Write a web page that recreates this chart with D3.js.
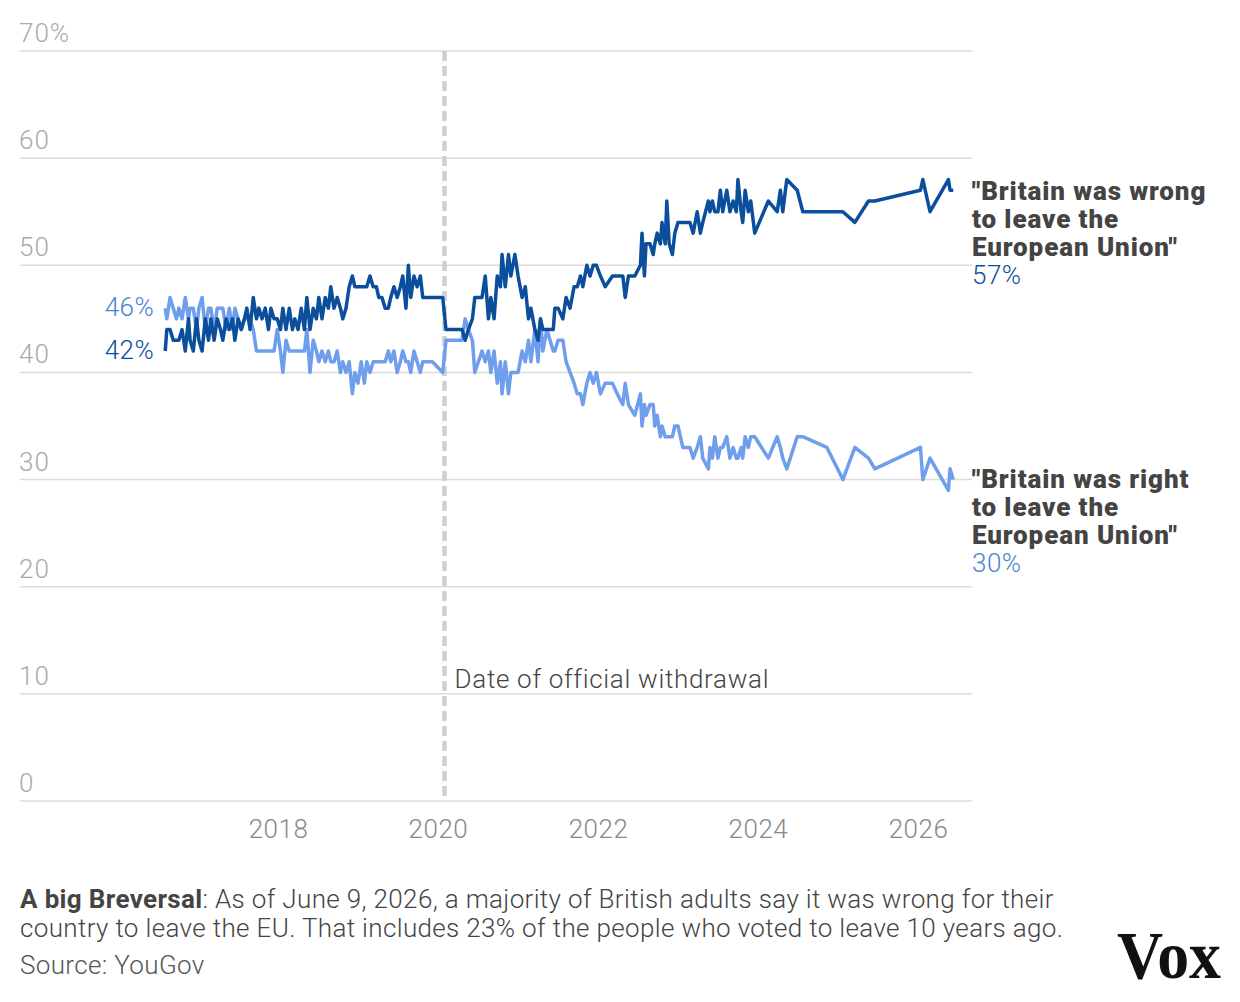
<!DOCTYPE html>
<html>
<head>
<meta charset="utf-8">
<script src="https://cdn.jsdelivr.net/npm/d3@7"></script>
<style>
  body { margin: 0; background: #fff; }
  svg { display: block; font-family: Roboto, "Open Sans", sans-serif; }
</style>
</head>
<body>
<svg id="chart" width="1240" height="1002"></svg>
<script>
// poll dates as decimal years (YouGov tracker)
var pollYears = [
  2016.59, 2016.61, 2016.65, 2016.69, 2016.73, 2016.76, 2016.80, 2016.84, 2016.88, 2016.90,
  2016.94, 2016.98, 2017.01, 2017.05, 2017.09, 2017.13, 2017.16, 2017.20, 2017.24, 2017.28,
  2017.31, 2017.35, 2017.39, 2017.43, 2017.46, 2017.50, 2017.54, 2017.58, 2017.61, 2017.65,
  2017.69, 2017.73, 2017.76, 2017.80, 2017.84, 2017.88, 2017.91, 2017.95, 2017.99, 2018.03,
  2018.06, 2018.10, 2018.14, 2018.18, 2018.21, 2018.25, 2018.29, 2018.33, 2018.36, 2018.40,
  2018.44, 2018.48, 2018.51, 2018.55, 2018.59, 2018.63, 2018.66, 2018.70, 2018.74, 2018.78,
  2018.81, 2018.85, 2018.89, 2018.93, 2018.96, 2019.00, 2019.04, 2019.08, 2019.11, 2019.15,
  2019.19, 2019.23, 2019.26, 2019.30, 2019.34, 2019.38, 2019.41, 2019.45, 2019.49, 2019.53,
  2019.56, 2019.60, 2019.63, 2019.66, 2019.70, 2019.74, 2019.78, 2019.81, 2019.85, 2019.93,
  2020.06, 2020.10, 2020.30, 2020.34, 2020.38, 2020.43, 2020.46, 2020.55, 2020.59, 2020.63,
  2020.66, 2020.70, 2020.74, 2020.78, 2020.80, 2020.84, 2020.88, 2020.91, 2020.96, 2021.00,
  2021.05, 2021.09, 2021.13, 2021.16, 2021.21, 2021.25, 2021.28, 2021.31, 2021.36, 2021.40,
  2021.44, 2021.46, 2021.50, 2021.56, 2021.60, 2021.65, 2021.70, 2021.74, 2021.78, 2021.81,
  2021.86, 2021.90, 2021.94, 2021.98, 2022.03, 2022.09, 2022.18, 2022.24, 2022.31, 2022.34,
  2022.38, 2022.46, 2022.53, 2022.55, 2022.58, 2022.60, 2022.65, 2022.69, 2022.71, 2022.74,
  2022.78, 2022.80, 2022.84, 2022.86, 2022.89, 2022.93, 2022.96, 2023.00, 2023.06, 2023.15,
  2023.19, 2023.24, 2023.28, 2023.31, 2023.38, 2023.40, 2023.43, 2023.46, 2023.50, 2023.53,
  2023.56, 2023.61, 2023.65, 2023.69, 2023.73, 2023.75, 2023.79, 2023.81, 2023.84, 2023.88,
  2023.91, 2023.96, 2024.13, 2024.24, 2024.28, 2024.31, 2024.36, 2024.49, 2024.56, 2024.86,
  2025.06, 2025.21, 2025.38, 2025.46, 2026.03, 2026.06, 2026.15, 2026.38, 2026.40, 2026.44
];

// "Britain was wrong to leave"
var wrongValues = [
  42, 44, 44, 43, 43, 43, 44, 42, 45, 43,
  42, 45, 43, 42, 45, 43, 45, 43, 45, 44,
  43, 45, 44, 45, 43, 45, 44, 45, 46, 44,
  47, 45, 46, 45, 46, 44, 46, 45, 45, 44,
  46, 44, 46, 44, 45, 44, 46, 44, 47, 44,
  46, 45, 47, 45, 47, 46, 48, 46, 47, 46,
  45, 46, 48, 49, 48, 48, 48, 48, 48, 49,
  48, 48, 47, 47, 46, 46, 47, 48, 47, 48,
  49, 46, 50, 47, 49, 48, 49, 47, 47, 47,
  47, 44, 44, 43, 44, 45, 47, 47, 49, 45,
  47, 45, 49, 48, 51, 48, 51, 49, 51, 49,
  47, 48, 45, 46, 44, 43, 45, 44, 44, 44,
  44, 46, 46, 45, 47, 46, 48, 48, 49, 48,
  50, 49, 50, 50, 49, 48, 49, 49, 49, 47,
  49, 49, 50, 53, 49, 52, 52, 51, 52, 53,
  52, 54, 52, 56, 52, 51, 53, 54, 54, 54,
  53, 55, 53, 54, 56, 55, 56, 55, 55, 57,
  55, 57, 55, 56, 55, 58, 55, 54, 57, 55,
  56, 53, 56, 55, 57, 55, 58, 57, 55, 55,
  55, 54, 56, 56, 57, 58, 55, 58, 57, 57
];

// "Britain was right to leave"
var rightValues = [
  46, 45, 47, 46, 45, 46, 45, 47, 45, 46,
  46, 44, 46, 47, 44, 46, 46, 44, 46, 46,
  46, 44, 46, 44, 46, 45, 44, 45, 45, 45,
  44, 42, 42, 42, 42, 42, 42, 42, 44, 42,
  40, 43, 42, 42, 42, 42, 42, 42, 44, 40,
  43, 42, 41, 42, 41, 42, 41, 41, 42, 40,
  41, 40, 41, 38, 40, 39, 41, 39, 41, 40,
  41, 41, 41, 41, 41, 42, 41, 42, 40, 41,
  42, 41, 41, 40, 42, 41, 40, 41, 41, 41,
  40, 43, 43, 45, 44, 43, 40, 42, 41, 42,
  40, 42, 39, 41, 38, 41, 38, 40, 40, 40,
  42, 41, 43, 41, 44, 41, 45, 42, 44, 43,
  42, 42, 43, 43, 41, 40, 39, 38, 38, 37,
  39, 40, 39, 40, 38, 39, 39, 38, 37, 39,
  37, 36, 38, 35, 37, 36, 37, 37, 35, 36,
  34, 35, 34, 34, 34, 34, 35, 35, 33, 33,
  32, 33, 34, 32, 31, 33, 32, 34, 32, 33,
  33, 34, 32, 33, 32, 32, 33, 32, 34, 33,
  34, 34, 32, 34, 33, 32, 31, 34, 34, 33,
  30, 33, 32, 31, 33, 30, 32, 29, 31, 30
];

var yTicks = [0, 10, 20, 30, 40, 50, 60, 70];
var xTicks = [2018, 2020, 2022, 2024, 2026];
var withdrawalDate = '2020-01-31';

var wrongLabel = ['"Britain was wrong', 'to leave the', 'European Union"'];
var rightLabel = ['"Britain was right', 'to leave the', 'European Union"'];

var darkBlue = '#0b4f9c';
var lightBlue = '#6f9eec';
var labelBlue = '#4a82d6';
var fs = 26;

function yearToDate(y) {
  var yr = Math.floor(y);
  var start = Date.UTC(yr, 0, 1);
  var end = Date.UTC(yr + 1, 0, 1);
  return new Date(start + (y - yr) * (end - start));
}

var polls = pollYears.map(function (y, i) {
  return { date: yearToDate(y), wrong: wrongValues[i], right: rightValues[i] };
});

var svg = d3.select('#chart');
svg.append('rect').attr('width', 1240).attr('height', 1002).attr('fill', '#fff');

var x = d3.scaleUtc().domain([yearToDate(2014.775), yearToDate(2026.675)]).range([20, 972]);
var y = d3.scaleLinear().domain([0, 70]).range([801, 51]);

// gridlines + y labels
svg.append('g').selectAll('line').data(yTicks).join('line')
  .attr('x1', 20).attr('x2', 972)
  .attr('y1', function (d) { return y(d); }).attr('y2', function (d) { return y(d); })
  .attr('stroke', '#dcdcdc').attr('stroke-width', 1.5);

svg.append('g').selectAll('text').data(yTicks).join('text')
  .attr('x', 19).attr('y', function (d) { return y(d) - 9; })
  .attr('font-size', fs).attr('font-weight', 300).attr('fill', '#aaa')
  .attr('letter-spacing', 1)
  .text(function (d) { return d === 70 ? d + '%' : d; });

// x axis
var xAxis = svg.append('g').attr('transform', 'translate(0,801)')
  .call(d3.axisBottom(x)
    .tickValues(xTicks.map(function (t) { return yearToDate(t); }))
    .tickFormat(d3.utcFormat('%Y'))
    .tickSize(0).tickPadding(19));
xAxis.select('.domain').remove();
xAxis.selectAll('text').attr('font-size', fs).attr('font-weight', 300).attr('fill', '#888')
  .attr('font-family', 'Roboto, sans-serif').attr('letter-spacing', 0.5);

// withdrawal marker
var wx = x(new Date(withdrawalDate));
svg.append('line')
  .attr('x1', wx).attr('x2', wx).attr('y1', y(70)).attr('y2', y(0))
  .attr('stroke', '#cfcfcf').attr('stroke-width', 4.5).attr('stroke-dasharray', '10,5');
svg.append('text').attr('x', wx + 10).attr('y', 688)
  .attr('font-size', fs).attr('font-weight', 300).attr('fill', '#444')
  .attr('letter-spacing', 0.7)
  .text('Date of official withdrawal');

// series lines
var lineRight = d3.line().x(function (d) { return x(d.date); }).y(function (d) { return y(d.right); });
var lineWrong = d3.line().x(function (d) { return x(d.date); }).y(function (d) { return y(d.wrong); });

svg.append('path').datum(polls).attr('d', lineRight)
  .attr('fill', 'none').attr('stroke', lightBlue).attr('stroke-width', 3.5)
  .attr('stroke-linejoin', 'round');
svg.append('path').datum(polls).attr('d', lineWrong)
  .attr('fill', 'none').attr('stroke', darkBlue).attr('stroke-width', 3.5)
  .attr('stroke-linejoin', 'round');

// start labels
var first = polls[0], last = polls[polls.length - 1];
svg.append('text').attr('x', x(first.date) - 11).attr('y', y(first.right) + 8)
  .attr('text-anchor', 'end').attr('font-size', fs).attr('font-weight', 300).attr('fill', labelBlue)
  .attr('letter-spacing', 0.5)
  .text(first.right + '%');
svg.append('text').attr('x', x(first.date) - 11).attr('y', y(first.wrong) + 8)
  .attr('text-anchor', 'end').attr('font-size', fs).attr('font-weight', 300).attr('fill', darkBlue)
  .attr('letter-spacing', 0.5)
  .text(first.wrong + '%');

// end labels
function endLabel(lines, value, top, color) {
  var g = svg.append('g');
  lines.forEach(function (t, i) {
    g.append('text').attr('x', 972).attr('y', top + i * 28)
      .attr('font-size', 26).attr('font-weight', 900).attr('fill', '#444')
      .attr('letter-spacing', 0.9)
      .text(t);
  });
  g.append('text').attr('x', 972).attr('y', top + lines.length * 28)
    .attr('font-size', fs).attr('font-weight', 300).attr('fill', color)
    .attr('letter-spacing', 0.5).text(value + '%');
}
endLabel(wrongLabel, last.wrong, 200, darkBlue);
endLabel(rightLabel, last.right, 488, labelBlue);

// caption
var cap = svg.append('text').attr('x', 20).attr('y', 908).attr('font-size', fs)
  .attr('font-weight', 300).attr('fill', '#444').attr('letter-spacing', 0.35);
cap.append('tspan').attr('font-weight', 700).text('A big Breversal');
cap.append('tspan').text(': As of June 9, 2026, a majority of British adults say it was wrong for their');
svg.append('text').attr('x', 20).attr('y', 937).attr('font-size', fs).attr('font-weight', 300)
  .attr('fill', '#444').attr('letter-spacing', 0.35)
  .text('country to leave the EU. That includes 23% of the people who voted to leave 10 years ago.');
svg.append('text').attr('x', 20).attr('y', 974).attr('font-size', fs).attr('font-weight', 300)
  .attr('fill', '#555').attr('letter-spacing', 0.35)
  .text('Source: YouGov');

// logo
svg.append('text').attr('x', 1117).attr('y', 978)
  .attr('font-family', '"Liberation Serif", "DejaVu Serif", serif')
  .attr('font-weight', 700).attr('font-size', 68).attr('fill', '#111')
  .attr('textLength', 104).attr('lengthAdjust', 'spacingAndGlyphs')
  .text('Vox');
</script>
</body>
</html>
